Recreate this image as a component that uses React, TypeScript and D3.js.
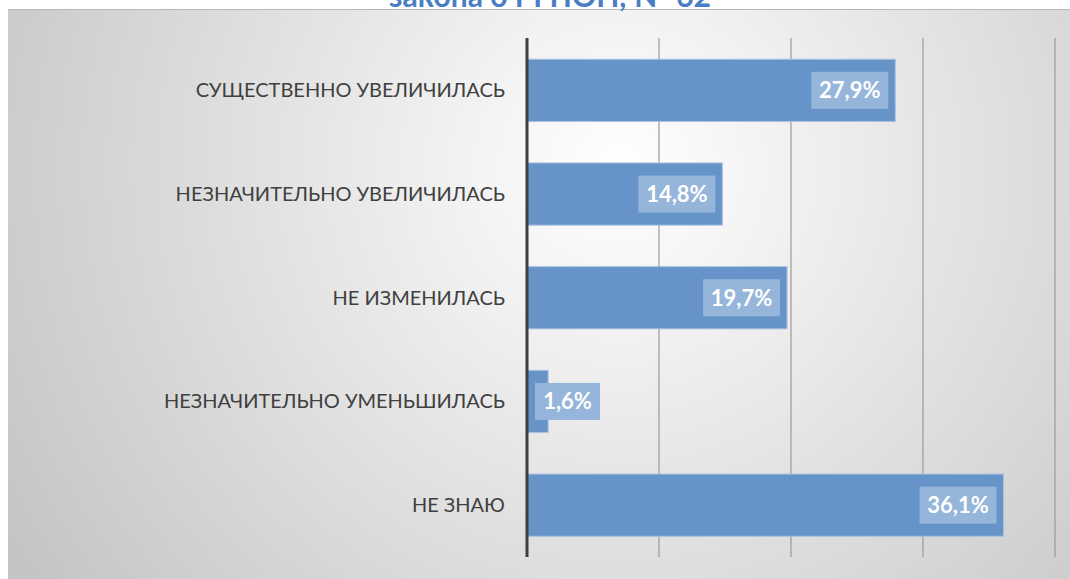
import React, { useEffect, useRef } from 'react'
import * as d3 from 'd3'

const WIDTH = 1070
const HEIGHT = 579

const categories = [
  'СУЩЕСТВЕННО УВЕЛИЧИЛАСЬ',
  'НЕЗНАЧИТЕЛЬНО УВЕЛИЧИЛАСЬ',
  'НЕ ИЗМЕНИЛАСЬ',
  'НЕЗНАЧИТЕЛЬНО УМЕНЬШИЛАСЬ',
  'НЕ ЗНАЮ',
]
const values = [27.9, 14.8, 19.7, 1.6, 36.1]
const xTicks = [0, 10, 20, 30, 40]
const title = 'закона о РГПОН, № 62'

const fmt = (v: number) => v.toFixed(1).replace('.', ',') + '%'

export default function App() {
  const ref = useRef<SVGSVGElement>(null)

  useEffect(() => {
    const svg = d3.select(ref.current)
    svg.selectAll('*').remove()

    const defs = svg.append('defs')
    const grad = defs.append('radialGradient')
      .attr('id', 'bg')
      .attr('gradientUnits', 'userSpaceOnUse')
      .attr('cx', 620).attr('cy', 170).attr('r', 720)
    grad.append('stop').attr('offset', '0%').attr('stop-color', '#ffffff')
    grad.append('stop').attr('offset', '100%').attr('stop-color', '#c4c4c4')

    svg.append('rect')
      .attr('x', 8).attr('y', 9)
      .attr('width', WIDTH - 8).attr('height', HEIGHT - 9)
      .attr('fill', 'url(#bg)')
    svg.append('line')
      .attr('x1', 8).attr('x2', WIDTH).attr('y1', 9.5).attr('y2', 9.5)
      .attr('stroke', '#b8b8b8').attr('stroke-width', 1)

    // title is clipped by the top of the picture, as in the original
    svg.append('text')
      .attr('x', 550).attr('y', 7)
      .attr('text-anchor', 'middle')
      .attr('font-family', 'Lato, "Open Sans", sans-serif')
      .attr('font-weight', 'bold')
      .attr('font-size', 30)
      .attr('fill', '#4a7ec4')
      .text(title)

    const x = d3.scaleLinear().domain([0, 40]).range([527, 1055])
    const y = d3.scaleBand().domain(categories).range([38.5, 557]).paddingInner(0.4).paddingOuter(0.2)

    const g = svg.append('g')

    g.selectAll('line.grid')
      .data(xTicks.slice(1))
      .join('line')
      .attr('class', 'grid')
      .attr('x1', d => x(d)).attr('x2', d => x(d))
      .attr('y1', 38).attr('y2', 557)
      .attr('stroke', '#9a9a9a').attr('stroke-width', 1.2)

    g.selectAll('rect.bar')
      .data(values)
      .join('rect')
      .attr('class', 'bar')
      .attr('x', x(0))
      .attr('y', (d, i) => y(categories[i])!)
      .attr('width', d => x(d) - x(0))
      .attr('height', y.bandwidth())
      .attr('fill', '#6794c8')
      .attr('stroke', '#a9c2e2')
      .attr('stroke-width', 1)

    g.append('line')
      .attr('x1', x(0)).attr('x2', x(0))
      .attr('y1', 38).attr('y2', 557)
      .attr('stroke', '#3f3f3f').attr('stroke-width', 3)

    g.selectAll('text.cat')
      .data(categories)
      .join('text')
      .attr('class', 'cat')
      .attr('x', 505)
      .attr('y', d => y(d)! + y.bandwidth() / 2)
      .attr('dy', '0.35em')
      .attr('text-anchor', 'end')
      .attr('font-family', 'Lato, "Open Sans", sans-serif')
      .attr('font-size', 20)
      .attr('fill', '#404040')
      .text(d => d)

    const boxW = (v: number) => (v < 10 ? 65 : 77)
    const boxH = 37
    const labels = g.selectAll('g.lbl')
      .data(values)
      .join('g')
      .attr('class', 'lbl')
      .attr('transform', (d, i) => {
        const w = boxW(d)
        const end = x(d)
        const bx = end - x(0) > w + 14 ? end - 7 - w : x(0) + 8
        const by = y(categories[i])! + y.bandwidth() / 2 - boxH / 2
        return `translate(${bx},${by})`
      })
    labels.append('rect')
      .attr('width', d => boxW(d)).attr('height', boxH)
      .attr('fill', '#96b5da')
    labels.append('text')
      .attr('x', d => boxW(d) / 2).attr('y', boxH / 2)
      .attr('dy', '0.36em')
      .attr('text-anchor', 'middle')
      .attr('font-family', 'Lato, "Open Sans", sans-serif')
      .attr('font-weight', 'bold')
      .attr('font-size', 22)
      .attr('fill', '#ffffff')
      .text(d => fmt(d))
  }, [])

  return (
    <svg ref={ref} width={WIDTH} height={HEIGHT} style={{ position: 'absolute', left: 0, top: 0 }} />
  )
}
